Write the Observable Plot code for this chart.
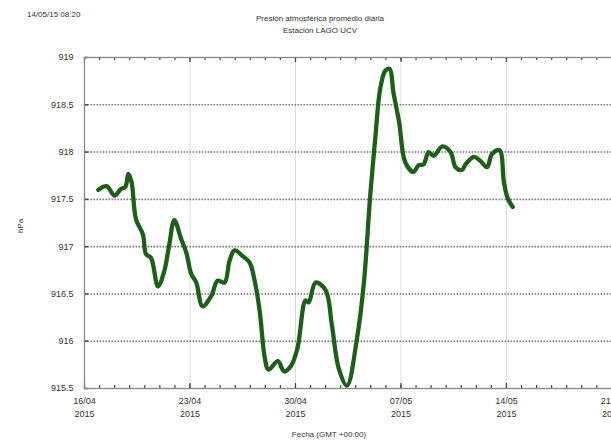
<!DOCTYPE html>
<html>
<head>
<meta charset="utf-8">
<script src="https://cdn.jsdelivr.net/npm/d3@7"></script>
<script src="https://cdn.jsdelivr.net/npm/@observablehq/plot@0.6"></script>
<style>
  html, body { margin: 0; padding: 0; background: #fff; overflow: hidden; }
  #wrap { position: relative; width: 611px; height: 446px; overflow: hidden; font-family: "Liberation Sans", Arial, sans-serif; color: #333; }
  #chart { position: absolute; left: 0; top: 0; width: 640px; }
  #chart svg { max-width: none !important; }
  .t { position: absolute; white-space: nowrap; font-size: 8px; color: #333; }
</style>
</head>
<body>
<div id="wrap">
  <div id="chart"></div>
  <div class="t" id="stamp" style="left:27px; top:10px;"></div>
  <div class="t" id="title1" style="left:320px; top:14px; transform:translateX(-50%);"></div>
  <div class="t" id="title2" style="left:320px; top:26px; transform:translateX(-50%);"></div>
  <div class="t" id="xlabel" style="left:329px; top:430px; transform:translateX(-50%);"></div>
  <div class="t" id="ylabel" style="left:20px; top:226px; transform:translate(-50%,-50%) rotate(-90deg);"></div>
</div>
<script>
// ---- data ----
const times = [
  "2015-04-16T22:00Z","2015-04-17T11:00Z","2015-04-18T00:00Z","2015-04-18T10:00Z","2015-04-18T17:00Z",
  "2015-04-18T22:00Z","2015-04-19T03:00Z","2015-04-19T10:00Z","2015-04-19T21:00Z","2015-04-20T02:00Z",
  "2015-04-20T10:00Z","2015-04-20T21:00Z","2015-04-21T07:00Z","2015-04-21T15:00Z","2015-04-21T23:00Z",
  "2015-04-22T10:00Z","2015-04-22T18:00Z","2015-04-23T02:00Z","2015-04-23T10:00Z","2015-04-23T20:00Z",
  "2015-04-24T10:00Z","2015-04-24T20:00Z","2015-04-25T07:00Z","2015-04-25T15:00Z","2015-04-25T23:00Z",
  "2015-04-26T12:00Z","2015-04-26T23:00Z","2015-04-27T07:00Z","2015-04-27T15:00Z","2015-04-27T23:00Z",
  "2015-04-28T05:00Z","2015-04-28T20:00Z","2015-04-29T06:00Z","2015-04-29T17:00Z","2015-04-30T03:00Z",
  "2015-04-30T16:00Z","2015-04-30T21:00Z","2015-05-01T08:00Z","2015-05-02T00:00Z","2015-05-02T10:00Z",
  "2015-05-02T21:00Z","2015-05-03T10:00Z","2015-05-04T02:00Z","2015-05-04T13:00Z","2015-05-04T23:00Z",
  "2015-05-05T07:00Z","2015-05-05T15:00Z","2015-05-05T23:00Z","2015-05-06T06:00Z","2015-05-06T12:00Z",
  "2015-05-06T21:00Z","2015-05-07T07:00Z","2015-05-07T20:00Z","2015-05-08T04:00Z","2015-05-08T12:00Z",
  "2015-05-08T20:00Z","2015-05-09T04:00Z","2015-05-09T18:00Z","2015-05-10T07:00Z","2015-05-10T15:00Z",
  "2015-05-11T01:00Z","2015-05-11T07:00Z","2015-05-11T20:00Z","2015-05-12T06:00Z","2015-05-12T17:00Z",
  "2015-05-13T01:00Z","2015-05-13T13:00Z","2015-05-13T20:00Z","2015-05-14T02:00Z","2015-05-14T10:00Z"
];
const pressure = [
  917.60, 917.64, 917.54, 917.61, 917.63,
  917.77, 917.68, 917.29, 917.13, 916.92,
  916.88, 916.58, 916.74, 917.02, 917.28,
  917.08, 916.94, 916.71, 916.62, 916.37,
  916.48, 916.64, 916.62, 916.85, 916.96,
  916.90, 916.83, 916.64, 916.32, 915.83,
  915.70, 915.79, 915.68, 915.74, 915.92,
  916.43, 916.41, 916.62, 916.54, 916.17,
  915.71, 915.53, 916.03, 916.62, 917.54,
  918.14, 918.67, 918.86, 918.88, 918.63,
  918.32, 917.89, 917.79, 917.86, 917.87,
  918.00, 917.96, 918.06, 918.00, 917.84,
  917.81, 917.87, 917.95, 917.91, 917.84,
  917.98, 918.02, 917.68, 917.51, 917.42
];
const yTicks = [915.5, 916, 916.5, 917, 917.5, 918, 918.5, 919];
const yTickLabels = ["915.5", "916", "916.5", "917", "917.5", "918", "918.5", "919"];
const xTickDates = ["2015-04-16", "2015-04-23", "2015-04-30", "2015-05-07", "2015-05-14", "2015-05-21"];
const xTickLabels = ["16/04\n2015", "23/04\n2015", "30/04\n2015", "07/05\n2015", "14/05\n2015", "21/05\n2015"];
const xDomain = ["2015-04-16", "2015-05-22"];
const stampText = "14/05/15 08:20";
const titleLines = ["Presión atmosférica promedio diaria", "Estación LAGO UCV"];
const xTitle = "Fecha (GMT +00:00)";
const yTitle = "hPa";

// ---- build ----
const W = 640, H = 446, mL = 84, mR = 13.5, mT = 57, mB = 58;
const innerW = W - mL - mR, innerH = H - mT - mB;
const data = times.map((t, i) => ({date: new Date(t), value: pressure[i]}));
const xStart = new Date(xDomain[0] + "T00:00Z"), xEnd = new Date(xDomain[1] + "T00:00Z");
const xTicks = xTickDates.map(d => new Date(d + "T00:00Z"));
const dayTicks = d3.utcDay.range(xStart, xEnd);
const yLabelOf = v => yTickLabels[yTicks.indexOf(v)];
const xLabelOf = d => xTickLabels[xTicks.findIndex(t => +t === +d)];
const tickCol = "#444";
const gridRows = yTicks.slice(1, -1).map(v => ({v}));

const chart = Plot.plot({
  width: W,
  height: H,
  marginLeft: mL,
  marginRight: mR,
  marginTop: mT,
  marginBottom: mB,
  style: {fontFamily: "Liberation Sans, Arial, sans-serif", fontSize: "9px", color: "#333", maxWidth: "none"},
  x: {type: "utc", domain: [xStart, xEnd]},
  y: {domain: [915.5, 919]},
  marks: [
    Plot.ruleX(xTicks, {stroke: "#dcdcdc", strokeWidth: 1}),
    // horizontal dotted gridlines drawn as links across the full x domain
    Plot.link(gridRows, {x1: () => xStart, x2: () => xEnd, y1: "v", y2: "v", stroke: "#7a7a7a", strokeOpacity: 1, strokeDasharray: "1.6,1.4", strokeWidth: 1.6}),
    // inward daily minor ticks, bottom and top
    Plot.ruleX(dayTicks, {insetTop: innerH - 3, stroke: tickCol, strokeWidth: 1.2}),
    Plot.ruleX(dayTicks, {insetBottom: innerH - 3, stroke: tickCol, strokeWidth: 1.2}),
    // inward weekly major ticks
    Plot.ruleX(xTicks, {insetTop: innerH - 5, stroke: tickCol, strokeWidth: 1.2}),
    Plot.ruleX(xTicks, {insetBottom: innerH - 5, stroke: tickCol, strokeWidth: 1.2}),
    // inward y ticks, left and right
    Plot.ruleY(yTicks, {insetRight: innerW - 4, stroke: tickCol, strokeWidth: 1.5}),
    Plot.ruleY(yTicks, {insetLeft: innerW - 4, stroke: tickCol, strokeWidth: 1.5}),
    Plot.axisX(xTicks, {anchor: "bottom", tickSize: 0, tickPadding: 6, tickFormat: xLabelOf, fill: "#333", label: null, lineHeight: 1.45}),
    Plot.axisY(yTicks, {anchor: "left", tickSize: 0, tickPadding: 11, tickFormat: yLabelOf, fill: "#333", label: null}),
    Plot.frame({stroke: "#888", strokeWidth: 1.3}),
    Plot.line(data, {x: "date", y: "value", stroke: "#1f5e1a", strokeWidth: 4.3, curve: "catmull-rom", strokeLinejoin: "round", strokeLinecap: "round"})
  ]
});
chart.style.maxWidth = "none";
chart.style.background = "#fff";
document.getElementById("chart").appendChild(chart);
document.getElementById("stamp").textContent = stampText;
document.getElementById("title1").textContent = titleLines[0];
document.getElementById("title2").textContent = titleLines[1];
document.getElementById("xlabel").textContent = xTitle;
document.getElementById("ylabel").textContent = yTitle;
</script>
</body>
</html>
